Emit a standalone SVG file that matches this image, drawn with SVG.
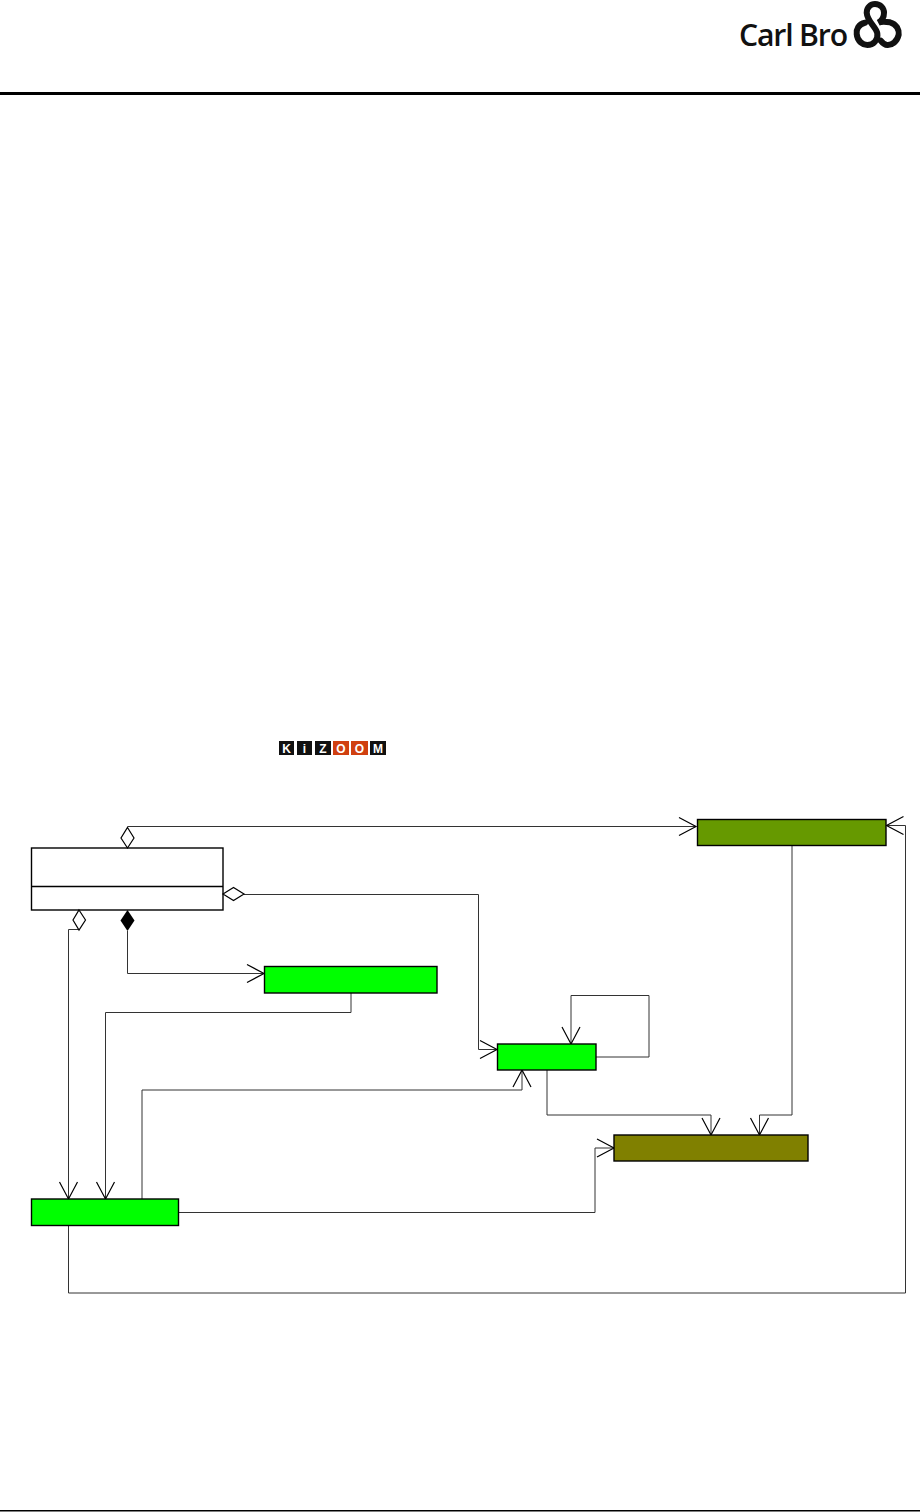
<svg xmlns="http://www.w3.org/2000/svg" width="920" height="1512" viewBox="0 0 920 1512">
<style>
.box{stroke:#000;stroke-width:1.4}
.g{fill:#00ff00}
.dg{fill:#669900}
.ol{fill:#808000}
.c{fill:none;stroke:#333;stroke-width:1}
.d{fill:#fff;stroke:#000;stroke-width:1.2}
.k{font-family:"Liberation Sans",Arial,sans-serif;font-weight:700;font-size:12px;text-anchor:middle;fill:#fff}
</style>
<defs>
<marker id="a" markerUnits="userSpaceOnUse" markerWidth="22" markerHeight="24" refX="18" refY="10" orient="auto" overflow="visible">
<path d="M1 1 L18 10 L1 19" fill="none" stroke="#000" stroke-width="1.2"/>
</marker>
</defs>
<rect width="920" height="1512" fill="#fff"/>
<g id="header">
<rect x="0" y="92" width="920" height="3" fill="#000"/>
<text x="739" y="46" font-family="'Open Sans','Liberation Sans',sans-serif" font-size="31" font-weight="600" letter-spacing="-1.2" fill="#111" textLength="108" lengthAdjust="spacingAndGlyphs">Carl Bro</text>
<g fill="none" stroke="#111" stroke-width="6" stroke-linecap="round">
<path d="M865 22.700C858.300 24 856 30 856.700 34C857.300 41.700 863.300 45 867.300 45C873.300 45 878.300 40 877.300 33.300C876 26.700 867.300 21.700 866.700 12.700C866.700 7.300 870.700 4 875 4C880.700 4 884 8.300 884 12.700C884 16.700 881.700 20.700 878.300 22.700C881.700 21 886.700 21.700 890 22.300C896.700 24 899.300 30 898.700 34.700C897.300 41.700 891.700 45.300 887.300 45C885 45 882.700 43.300 880.700 40.700"/>
</g>
</g>
<g id="footer"><rect x="0" y="1510" width="920" height="1.5" fill="#000"/></g>
<g id="kizoom">
<rect x="279" y="741" width="15" height="14" fill="#111"/><rect x="297" y="741" width="15" height="14" fill="#111"/><rect x="315" y="741" width="16" height="14" fill="#111"/>
<rect x="333" y="741" width="16" height="14" fill="#d04010"/><rect x="351" y="741" width="17" height="14" fill="#d04010"/><rect x="370" y="741" width="16" height="14" fill="#111"/>
<text class="k" x="286.500" y="753">K</text><text class="k" x="304.500" y="753">i</text><text class="k" x="323" y="753">Z</text>
<text class="k" x="341" y="753">O</text><text class="k" x="359.500" y="753">O</text><text class="k" x="378" y="753">M</text>
</g>
<g id="connectors">
<path class="c" d="M127.500 826.500H696" marker-end="url(#a)"/>
<path class="c" d="M244 894.500H478.500V1049.500H497" marker-end="url(#a)"/>
<path class="c" d="M79 929.500H68.500V1199" marker-end="url(#a)"/>
<path class="c" d="M127.500 931V973.500H264" marker-end="url(#a)"/>
<path class="c" d="M351 993V1012.500H105.500V1199" marker-end="url(#a)"/>
<path class="c" d="M596 1057H649V995.500H571V1044" marker-end="url(#a)"/>
<path class="c" d="M142 1199V1090H522V1070" marker-end="url(#a)"/>
<path class="c" d="M547 1070V1115H711V1135" marker-end="url(#a)"/>
<path class="c" d="M792 845.500V1115H759.500V1135" marker-end="url(#a)"/>
<path class="c" d="M178.500 1212.500H595V1148H614" marker-end="url(#a)"/>
<path class="c" d="M68.500 1226V1293H905.500V825.500H886.500" marker-end="url(#a)"/>
</g>
<g id="class-box">
<rect class="box" x="31.500" y="848" width="191.500" height="62" fill="#fff"/>
<path class="box" d="M31.500 886.500H223"/>
<path class="d" d="M127.500 827.500L134 838L127.500 848L121 838Z"/>
<path class="d" d="M223 894L233.500 887.500L244 894L233.500 900.500Z"/>
<path class="d" d="M79 910L85.500 920L79 930L73 920Z"/>
<path d="M127.500 910L134.500 920.500L127.500 931L120.500 920.500Z" fill="#000"/>
</g>
<g id="node-a"><rect class="box g" x="264.500" y="966.500" width="172.500" height="26.500"/></g>
<g id="node-b"><rect class="box g" x="497.500" y="1044" width="98.500" height="26"/></g>
<g id="node-c"><rect class="box g" x="31.500" y="1199" width="147" height="26.500"/></g>
<g id="node-d"><rect class="box dg" x="697.500" y="819.500" width="188.500" height="26"/></g>
<g id="node-e"><rect class="box ol" x="614" y="1135" width="194" height="26"/></g>
</svg>
